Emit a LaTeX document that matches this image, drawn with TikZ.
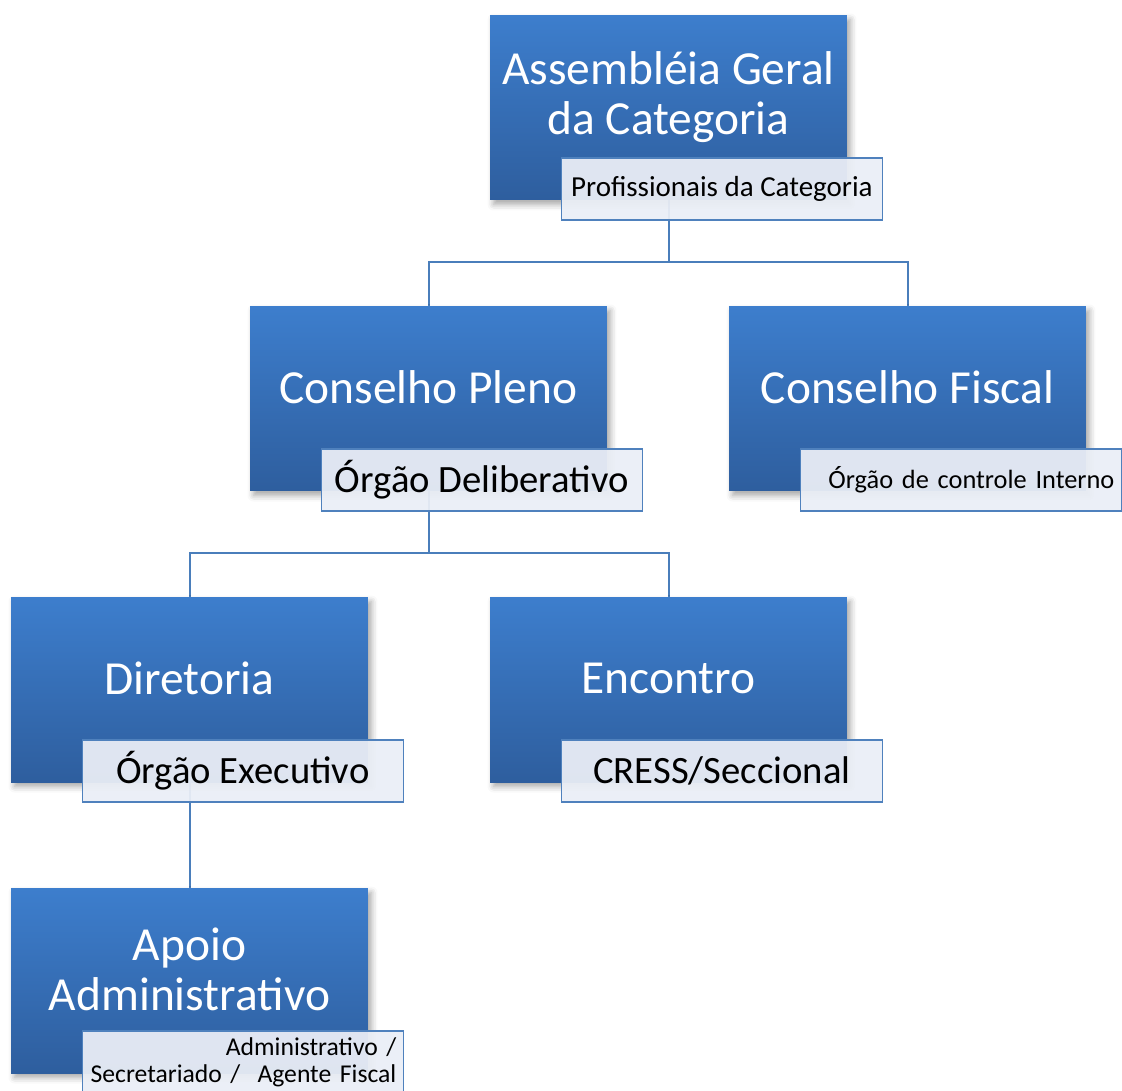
\documentclass[tikz,border=0pt]{standalone}
\usepackage{fontspec}
\setmainfont{Carlito}
\usetikzlibrary{shadows.blur,backgrounds}
\definecolor{boxtop}{RGB}{61,126,205}
\definecolor{boxbot}{RGB}{46,94,158}
\definecolor{tagline}{RGB}{79,129,189}
\definecolor{tagfill}{RGB}{234,238,246}
\definecolor{linkcol}{RGB}{74,126,187}
\begin{document}
\begin{tikzpicture}[x=0.02cm,y=-0.02cm]
    \tikzset{unit/.style={rectangle,minimum width=7.14cm,minimum height=3.7cm,inner sep=0pt,
                top color=boxtop,bottom color=boxbot,draw=none,
                blur shadow={shadow xshift=0.07cm,shadow yshift=-0.09cm,shadow blur radius=0.12cm,shadow opacity=35}},
        unittext/.style={text=white,align=center,font=\fontsize{27}{28.5}\selectfont},
        tag/.style={rectangle,anchor=north west,minimum width=6.42cm,minimum height=1.24cm,
                inner xsep=0.14cm,inner ysep=0pt,align=center,
                draw=tagline,line width=0.03cm,fill=tagfill,fill opacity=0.94,text opacity=1,
                font=\fontsize{22}{24}\selectfont},
        smalltag/.style={tag,text width=6.14cm,align=right,font=\fontsize{15}{15.4}\selectfont},
        link/.style={draw=linkcol,line width=0.04cm}}
    \useasboundingbox (0,0) rectangle (1122,1090);
    % boxes
    \node[unit] (ag) at (668.5,107.5) {};
    \node[unit] (cp) at (428.5,398.5) {};
    \node[unit] (cf) at (907.5,398.5) {};
    \node[unit] (dir) at (189.5,689.5) {};
    \node[unit] (enc) at (668.5,689.5) {};
    \node[unit] (apo) at (189.5,980.5) {};
    % box texts
    \node[unittext] (ag-t) at ([yshift=0.2cm]ag.center) {Assembléia Geral\\da Categoria};
    \node[unittext] (cp-t) at ([yshift=0.22cm]cp.center) {Conselho Pleno};
    \node[unittext] (cf-t) at ([yshift=0.22cm]cf.center) {Conselho Fiscal};
    \node[unittext] (dir-t) at ([yshift=0.22cm]dir.center) {Diretoria};
    \node[unittext] (enc-t) at ([yshift=0.22cm]enc.center) {Encontro};
    \node[unittext] (apo-t) at ([yshift=0.22cm]apo.center) {Apoio\\Administrativo};
    % tags
    \node[tag,font=\fontsize{16.5}{18}\selectfont] (ag-tag) at ([xshift=1.42cm,yshift=0.86cm]ag.south west) {Profissionais da Categoria};
    \node[tag] (cp-tag) at ([xshift=1.42cm,yshift=0.86cm]cp.south west) {Órgão Deliberativo};
    \node[smalltag] (cf-tag) at ([xshift=1.42cm,yshift=0.86cm]cf.south west) {Órgão de controle Interno};
    \node[tag] (dir-tag) at ([xshift=1.42cm,yshift=0.86cm]dir.south west) {Órgão Executivo};
    \node[tag] (enc-tag) at ([xshift=1.42cm,yshift=0.86cm]enc.south west) {CRESS/Seccional};
    \node[smalltag,font=\fontsize{14.6}{15.2}\selectfont] (apo-tag) at ([xshift=1.42cm,yshift=0.86cm]apo.south west) {Administrativo /\\Secretariado /~ Agente Fiscal};
    % connectors
    \begin{pgfonlayer}{background}
        \draw[link] (ag.south) -- ++(0,62) -| (cp.north);
        \draw[link] (ag.south) ++(0,62) -| (cf.north);
        \draw[link] (cp.south) -- ++(0,62) -| (dir.north);
        \draw[link] (cp.south) ++(0,62) -| (enc.north);
        \draw[link] (dir.south) -- (apo.north);
    \end{pgfonlayer}
\end{tikzpicture}
\end{document}
